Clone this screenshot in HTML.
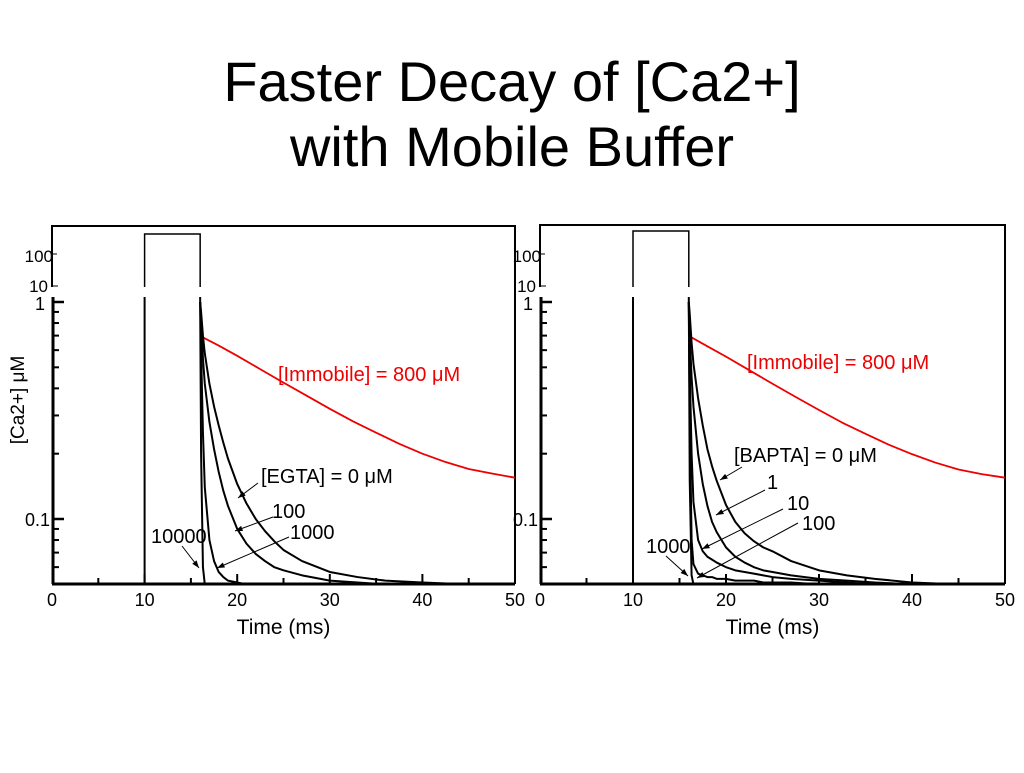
<!DOCTYPE html>
<html><head><meta charset="utf-8"><style>
body{margin:0;background:#fff;width:1024px;height:768px;overflow:hidden;font-family:"Liberation Sans",sans-serif}
svg text{font-family:"Liberation Sans","DejaVu Sans",sans-serif}
</style></head><body>
<svg id="s" width="1024" height="768">
<text x="512" y="101" font-size="56" text-anchor="middle">Faster Decay of [Ca2+]</text>
<text x="512" y="166" font-size="56" text-anchor="middle">with Mobile Buffer</text>
</svg>
<script>
const times=[16,16.1,16.3,16.5,17,17.5,18,18.5,19,20,21,22,23,24,25,27,30,33,36,40,45,50];
const egta0=[1,0.9,0.7,0.58,0.42,0.33,0.27,0.225,0.19,0.145,0.118,0.1,0.088,0.079,0.072,0.064,0.057,0.054,0.052,0.051,0.05,0.05];
const egta100=[1,0.85,0.55,0.42,0.28,0.21,0.165,0.135,0.115,0.09,0.077,0.069,0.064,0.06,0.058,0.055,0.052,0.051,0.05,0.05,0.05,0.05];
const egta1000=[1,0.6,0.25,0.14,0.08,0.064,0.057,0.054,0.052,0.051,0.05,0.05,0.05,0.05,0.05,0.05,0.05,0.05,0.05,0.05,0.05,0.05];
const egta10000=[1,0.2,0.06,0.05,0.05,0.05,0.05,0.05,0.05,0.05,0.05,0.05,0.05,0.05,0.05,0.05,0.05,0.05,0.05,0.05,0.05,0.05];
const bapta0=[1,0.88,0.65,0.52,0.36,0.27,0.21,0.175,0.15,0.116,0.097,0.086,0.079,0.074,0.071,0.064,0.058,0.055,0.053,0.051,0.05,0.05];
const bapta1=[1,0.7,0.45,0.33,0.2,0.145,0.115,0.097,0.087,0.074,0.067,0.063,0.06,0.058,0.057,0.055,0.053,0.052,0.051,0.05,0.05,0.05];
const bapta10=[1,0.5,0.2,0.12,0.08,0.071,0.067,0.065,0.063,0.06,0.058,0.057,0.056,0.055,0.054,0.053,0.052,0.051,0.05,0.05,0.05,0.05];
const bapta100=[1,0.3,0.08,0.062,0.056,0.055,0.054,0.054,0.053,0.053,0.052,0.052,0.052,0.051,0.051,0.051,0.05,0.05,0.05,0.05,0.05,0.05];
const bapta1000=[1,0.15,0.055,0.05,0.05,0.05,0.05,0.05,0.05,0.05,0.05,0.05,0.05,0.05,0.05,0.05,0.05,0.05,0.05,0.05,0.05,0.05];
const redTimes=[16.2,18,20,22.5,25,27.5,30,32.5,35,37.5,40,42.5,45,47.5,50];
const redVals=[0.69,0.63,0.565,0.49,0.425,0.37,0.322,0.282,0.25,0.222,0.2,0.183,0.17,0.162,0.155];
const redValsB=[0.69,0.625,0.56,0.485,0.42,0.365,0.318,0.278,0.247,0.22,0.199,0.182,0.169,0.161,0.155];
const xTicks=[0,10,20,30,40,50];
const NS='http://www.w3.org/2000/svg',S=document.getElementById('s');
function el(t,a,p){const e=document.createElementNS(NS,t);for(const k in a)e.setAttribute(k,a[k]);(p||S).appendChild(e);return e;}
function panel(x0,x1,top,pulseTop,curves,labels,name){
  const g=el('g',{});
  
  
  const X=t=>x0+(x1-x0)*t/50, Y=v=>302-217*Math.log10(v), yb=584;
  el('polyline',{points:`${x0},287 ${x0},${top} ${x1},${top} ${x1},${yb}`,fill:'none',stroke:'#000','stroke-width':2},g);
  el('line',{x1:x0,y1:286,x2:x0+6,y2:286,stroke:'#000','stroke-width':1},g);
  el('line',{x1:x0,y1:254,x2:x0+5,y2:254,stroke:'#000','stroke-width':1},g);
  let t=el('text',{x:x0+1,y:262,'font-size':17,'text-anchor':'end'},g);t.textContent='100';
  t=el('text',{x:x0-4,y:292,'font-size':17,'text-anchor':'end'},g);t.textContent='10';
  el('polyline',{points:`${X(10)},287 ${X(10)},${pulseTop} ${X(16)},${pulseTop} ${X(16)},287`,fill:'none',stroke:'#000','stroke-width':1.5},g);
  el('line',{x1:X(10),y1:297,x2:X(10),y2:yb,stroke:'#000','stroke-width':2},g);
  el('line',{x1:X(16),y1:297,x2:X(16),y2:302,stroke:'#000','stroke-width':2},g);
  el('line',{x1:x0+1,y1:297,x2:x0+1,y2:yb,stroke:'#000','stroke-width':3},g);
  el('line',{x1:x0,y1:yb,x2:x1,y2:yb,stroke:'#000','stroke-width':3},g);
  [1,0.1].forEach(v=>{el('line',{x1:x0,y1:Y(v),x2:x0+12,y2:Y(v),stroke:'#000','stroke-width':2.5},g);});
  [0.9,0.8,0.7,0.6,0.5,0.4,0.3,0.2,0.09,0.08,0.07,0.06].forEach(v=>{el('line',{x1:x0,y1:Y(v),x2:x0+7,y2:Y(v),stroke:'#000','stroke-width':2},g);});
  t=el('text',{x:x0-7,y:310,'font-size':18,'text-anchor':'end'},g);t.textContent='1';
  t=el('text',{x:x0-2,y:526,'font-size':18,'text-anchor':'end'},g);t.textContent='0.1';
  for(let v=5;v<50;v+=5){el('line',{x1:X(v),y1:yb,x2:X(v),y2:yb-(v%10?6:10),stroke:'#000','stroke-width':2},g);}
  xTicks.forEach(v=>{const tt=el('text',{x:X(v),y:606,'font-size':18,'text-anchor':'middle'},g);tt.textContent=v;});
  t=el('text',{x:X(25),y:yb+50,'font-size':21,'text-anchor':'middle'},g);t.textContent='Time  (ms)';
  
  curves.forEach(c=>{
    const p=el('polyline',{points:c.t.map((tt,i)=>X(tt)+','+Y(c.v[i])).join(' '),fill:'none',stroke:c.col,'stroke-width':c.col=='#000'?2:1.8,'stroke-linejoin':'round'},g);
    
  });
  labels.forEach(l=>{
    const tt=el('text',{x:l[0],y:l[1],'font-size':20,fill:l[3]||'#000'},g);tt.textContent=l[2];
    if(l[4]!=null){el('line',{x1:l[4],y1:l[5],x2:l[6][0],y2:l[6][1],stroke:'#000','stroke-width':1},g);
      const a=Math.atan2(l[6][1]-l[5],l[6][0]-l[4]),ex=l[6][0],ey=l[6][1];
      el('polygon',{points:`${ex},${ey} ${ex-8*Math.cos(a-0.35)},${ey-8*Math.sin(a-0.35)} ${ex-8*Math.cos(a+0.35)},${ey-8*Math.sin(a+0.35)}`,fill:'#000'},g);}
  });
}
panel(52,515,226,234,[
 {t:redTimes,v:redVals,col:'#e00',n:'immobile-curve-left'},
 {t:times,v:egta0,col:'#000',n:'egta-0-curve'},
 {t:times,v:egta100,col:'#000',n:'egta-100-curve'},
 {t:times,v:egta1000,col:'#000',n:'egta-1000-curve'},
 {t:times,v:egta10000,col:'#000',n:'egta-10000-curve'}],
 [[278,381,'[Immobile] = 800 μM','#e00'],
  [261,483,'[EGTA] = 0 μM','#000',258,483,[238,498]],
  [272,518,'100','#000',273,517,[235,531]],
  [290,539,'1000','#000',289,537,[217,568]],
  [151,543,'10000','#000',182,546,[199,568]]],'left-panel');
panel(540,1005,225,231,[
 {t:redTimes,v:redValsB,col:'#e00',n:'immobile-curve-right'},
 {t:times,v:bapta0,col:'#000',n:'bapta-0-curve'},
 {t:times,v:bapta1,col:'#000',n:'bapta-1-curve'},
 {t:times,v:bapta10,col:'#000',n:'bapta-10-curve'},
 {t:times,v:bapta100,col:'#000',n:'bapta-100-curve'},
 {t:times,v:bapta1000,col:'#000',n:'bapta-1000-curve'}],
 [[747,369,'[Immobile] = 800 μM','#e00'],
  [734,462,'[BAPTA] = 0 μM','#000',742,467,[720,480]],
  [767,489,'1','#000',765,490,[716,515]],
  [787,510,'10','#000',783,509,[702,549]],
  [802,530,'100','#000',798,523,[697,578]],
  [646,553,'1000','#000',666,556,[688,576]]],'right-panel');
const yl=el('text',{x:0,y:0,'font-size':19,'text-anchor':'middle',transform:'translate(24,400) rotate(-90)'});
yl.textContent='[Ca2+]  μM';


</script>
</body></html>
